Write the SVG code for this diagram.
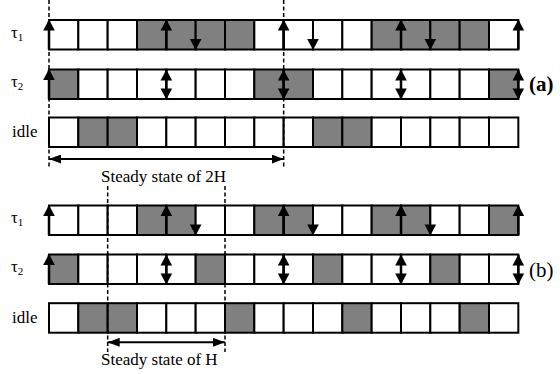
<svg xmlns="http://www.w3.org/2000/svg" xmlns:xlink="http://www.w3.org/1999/xlink" width="560" height="374" viewBox="0 0 560 374">
<style>
.w{fill:#fff;stroke:#000;stroke-width:2}
.g{fill:#808080;stroke:#000;stroke-width:2}
.sh{stroke:#000;stroke-width:2.5}
.ds{stroke:#000;stroke-width:1.5;stroke-dasharray:4,2.5;fill:none}
.hl{stroke:#000;stroke-width:2;fill:none}
</style>
<defs>
<path id="uh" d="M0,0 L5.8,11 L-5.8,11 Z" fill="#000"/>
<path id="dh" d="M0,0 L5.8,-11 L-5.8,-11 Z" fill="#000"/>
<marker id="ah" viewBox="0 0 12 9" refX="12" refY="4.5" markerWidth="12" markerHeight="9" markerUnits="userSpaceOnUse" orient="auto-start-reverse"><path d="M0,0 L12,4.5 L0,9 Z" fill="#000"/></marker>
</defs>

<g font-family="'Liberation Serif', 'Times New Roman', 'DejaVu Serif', serif" fill="#000">
<!-- part (a) -->
<g id="a-tau1">
<text font-size="17" x="11" y="38">τ<tspan font-size="11" dy="3">1</tspan></text>
<rect class="w" x="49" y="20" width="29.33" height="29.5"/>
<rect class="w" x="78.33" y="20" width="29.33" height="29.5"/>
<rect class="w" x="107.67" y="20" width="29.33" height="29.5"/>
<rect class="g" x="137" y="20" width="29.33" height="29.5"/>
<rect class="g" x="166.33" y="20" width="29.33" height="29.5"/>
<rect class="g" x="195.67" y="20" width="29.33" height="29.5"/>
<rect class="g" x="225" y="20" width="29.33" height="29.5"/>
<rect class="w" x="254.33" y="20" width="29.33" height="29.5"/>
<rect class="w" x="283.67" y="20" width="29.33" height="29.5"/>
<rect class="w" x="313" y="20" width="29.33" height="29.5"/>
<rect class="w" x="342.33" y="20" width="29.33" height="29.5"/>
<rect class="g" x="371.67" y="20" width="29.33" height="29.5"/>
<rect class="g" x="401" y="20" width="29.33" height="29.5"/>
<rect class="g" x="430.33" y="20" width="29.33" height="29.5"/>
<rect class="g" x="459.67" y="20" width="29.33" height="29.5"/>
<rect class="w" x="489" y="20" width="29.33" height="29.5"/>
</g>
<g id="a-tau2">
<text font-size="17" x="11" y="87">τ<tspan font-size="11" dy="3">2</tspan></text>
<rect class="g" x="49" y="69.5" width="29.33" height="29.5"/>
<rect class="w" x="78.33" y="69.5" width="29.33" height="29.5"/>
<rect class="w" x="107.67" y="69.5" width="29.33" height="29.5"/>
<rect class="w" x="137" y="69.5" width="29.33" height="29.5"/>
<rect class="w" x="166.33" y="69.5" width="29.33" height="29.5"/>
<rect class="w" x="195.67" y="69.5" width="29.33" height="29.5"/>
<rect class="w" x="225" y="69.5" width="29.33" height="29.5"/>
<rect class="g" x="254.33" y="69.5" width="29.33" height="29.5"/>
<rect class="g" x="283.67" y="69.5" width="29.33" height="29.5"/>
<rect class="w" x="313" y="69.5" width="29.33" height="29.5"/>
<rect class="w" x="342.33" y="69.5" width="29.33" height="29.5"/>
<rect class="w" x="371.67" y="69.5" width="29.33" height="29.5"/>
<rect class="w" x="401" y="69.5" width="29.33" height="29.5"/>
<rect class="w" x="430.33" y="69.5" width="29.33" height="29.5"/>
<rect class="w" x="459.67" y="69.5" width="29.33" height="29.5"/>
<rect class="g" x="489" y="69.5" width="29.33" height="29.5"/>
</g>
<g id="a-idle">
<text font-size="17" x="12" y="137">idle</text>
<rect class="w" x="49" y="117.5" width="29.33" height="29.5"/>
<rect class="g" x="78.33" y="117.5" width="29.33" height="29.5"/>
<rect class="g" x="107.67" y="117.5" width="29.33" height="29.5"/>
<rect class="w" x="137" y="117.5" width="29.33" height="29.5"/>
<rect class="w" x="166.33" y="117.5" width="29.33" height="29.5"/>
<rect class="w" x="195.67" y="117.5" width="29.33" height="29.5"/>
<rect class="w" x="225" y="117.5" width="29.33" height="29.5"/>
<rect class="w" x="254.33" y="117.5" width="29.33" height="29.5"/>
<rect class="w" x="283.67" y="117.5" width="29.33" height="29.5"/>
<rect class="g" x="313" y="117.5" width="29.33" height="29.5"/>
<rect class="g" x="342.33" y="117.5" width="29.33" height="29.5"/>
<rect class="w" x="371.67" y="117.5" width="29.33" height="29.5"/>
<rect class="w" x="401" y="117.5" width="29.33" height="29.5"/>
<rect class="w" x="430.33" y="117.5" width="29.33" height="29.5"/>
<rect class="w" x="459.67" y="117.5" width="29.33" height="29.5"/>
<rect class="w" x="489" y="117.5" width="29.33" height="29.5"/>
</g>
<g id="label-a"><text x="529" y="91" font-size="21" font-weight="bold">(a)</text></g>
<g id="label-2H"><text font-size="17" x="101" y="182">Steady state of 2H</text></g>

<!-- part (b) -->
<g id="b-tau1">
<text font-size="17" x="11" y="223">τ<tspan font-size="11" dy="3">1</tspan></text>
<rect class="w" x="49" y="205.5" width="29.33" height="29.5"/>
<rect class="w" x="78.33" y="205.5" width="29.33" height="29.5"/>
<rect class="w" x="107.67" y="205.5" width="29.33" height="29.5"/>
<rect class="g" x="137" y="205.5" width="29.33" height="29.5"/>
<rect class="g" x="166.33" y="205.5" width="29.33" height="29.5"/>
<rect class="w" x="195.67" y="205.5" width="29.33" height="29.5"/>
<rect class="w" x="225" y="205.5" width="29.33" height="29.5"/>
<rect class="g" x="254.33" y="205.5" width="29.33" height="29.5"/>
<rect class="g" x="283.67" y="205.5" width="29.33" height="29.5"/>
<rect class="w" x="313" y="205.5" width="29.33" height="29.5"/>
<rect class="w" x="342.33" y="205.5" width="29.33" height="29.5"/>
<rect class="g" x="371.67" y="205.5" width="29.33" height="29.5"/>
<rect class="g" x="401" y="205.5" width="29.33" height="29.5"/>
<rect class="w" x="430.33" y="205.5" width="29.33" height="29.5"/>
<rect class="w" x="459.67" y="205.5" width="29.33" height="29.5"/>
<rect class="g" x="489" y="205.5" width="29.33" height="29.5"/>
</g>
<g id="b-tau2">
<text font-size="17" x="11" y="272">τ<tspan font-size="11" dy="3">2</tspan></text>
<rect class="g" x="49" y="254.5" width="29.33" height="29.5"/>
<rect class="w" x="78.33" y="254.5" width="29.33" height="29.5"/>
<rect class="w" x="107.67" y="254.5" width="29.33" height="29.5"/>
<rect class="w" x="137" y="254.5" width="29.33" height="29.5"/>
<rect class="w" x="166.33" y="254.5" width="29.33" height="29.5"/>
<rect class="g" x="195.67" y="254.5" width="29.33" height="29.5"/>
<rect class="w" x="225" y="254.5" width="29.33" height="29.5"/>
<rect class="w" x="254.33" y="254.5" width="29.33" height="29.5"/>
<rect class="w" x="283.67" y="254.5" width="29.33" height="29.5"/>
<rect class="g" x="313" y="254.5" width="29.33" height="29.5"/>
<rect class="w" x="342.33" y="254.5" width="29.33" height="29.5"/>
<rect class="w" x="371.67" y="254.5" width="29.33" height="29.5"/>
<rect class="w" x="401" y="254.5" width="29.33" height="29.5"/>
<rect class="g" x="430.33" y="254.5" width="29.33" height="29.5"/>
<rect class="w" x="459.67" y="254.5" width="29.33" height="29.5"/>
<rect class="w" x="489" y="254.5" width="29.33" height="29.5"/>
</g>
<g id="b-idle">
<text font-size="17" x="12" y="323">idle</text>
<rect class="w" x="49" y="303.2" width="29.33" height="29.5"/>
<rect class="g" x="78.33" y="303.2" width="29.33" height="29.5"/>
<rect class="g" x="107.67" y="303.2" width="29.33" height="29.5"/>
<rect class="w" x="137" y="303.2" width="29.33" height="29.5"/>
<rect class="w" x="166.33" y="303.2" width="29.33" height="29.5"/>
<rect class="w" x="195.67" y="303.2" width="29.33" height="29.5"/>
<rect class="g" x="225" y="303.2" width="29.33" height="29.5"/>
<rect class="w" x="254.33" y="303.2" width="29.33" height="29.5"/>
<rect class="w" x="283.67" y="303.2" width="29.33" height="29.5"/>
<rect class="w" x="313" y="303.2" width="29.33" height="29.5"/>
<rect class="g" x="342.33" y="303.2" width="29.33" height="29.5"/>
<rect class="w" x="371.67" y="303.2" width="29.33" height="29.5"/>
<rect class="w" x="401" y="303.2" width="29.33" height="29.5"/>
<rect class="w" x="430.33" y="303.2" width="29.33" height="29.5"/>
<rect class="g" x="459.67" y="303.2" width="29.33" height="29.5"/>
<rect class="w" x="489" y="303.2" width="29.33" height="29.5"/>
</g>
<g id="label-b"><text x="529" y="277" font-size="21">(b)</text></g>
<g id="label-H"><text font-size="17" x="101" y="365">Steady state of H</text></g>
</g>

<g id="connectors">
<line class="ds" x1="49" y1="0" x2="49" y2="167"/>
<line class="ds" x1="283.67" y1="0" x2="283.67" y2="167"/>
<line class="ds" x1="107.67" y1="186" x2="107.67" y2="352"/>
<line class="ds" x1="225" y1="186" x2="225" y2="352"/>
<line class="hl" x1="49" y1="159" x2="283.67" y2="159" marker-start="url(#ah)" marker-end="url(#ah)"/>
<line class="hl" x1="107.67" y1="342.3" x2="225" y2="342.3" marker-start="url(#ah)" marker-end="url(#ah)"/>

<g>
<line class="sh" x1="49" y1="21" x2="49" y2="49.5"/><use xlink:href="#uh" x="49" y="19.5"/>
<line class="sh" x1="166.33" y1="21" x2="166.33" y2="49.5"/><use xlink:href="#uh" x="166.33" y="19.5"/>
<line class="sh" x1="283.67" y1="21" x2="283.67" y2="49.5"/><use xlink:href="#uh" x="283.67" y="19.5"/>
<line class="sh" x1="401" y1="21" x2="401" y2="49.5"/><use xlink:href="#uh" x="401" y="19.5"/>
<line class="sh" x1="518.33" y1="21" x2="518.33" y2="49.5"/><use xlink:href="#uh" x="518.33" y="19.5"/>
<use xlink:href="#dh" x="195.67" y="50"/>
<use xlink:href="#dh" x="313" y="50"/>
<use xlink:href="#dh" x="430.33" y="50"/>
</g>
<g>
<line class="sh" x1="49" y1="70" x2="49" y2="99"/><use xlink:href="#uh" x="49" y="69"/>
<line class="sh" x1="166.33" y1="70" x2="166.33" y2="98.5"/><use xlink:href="#uh" x="166.33" y="69.5"/><use xlink:href="#dh" x="166.33" y="99.5"/>
<line class="sh" x1="283.67" y1="70" x2="283.67" y2="98.5"/><use xlink:href="#uh" x="283.67" y="69.5"/><use xlink:href="#dh" x="283.67" y="99.5"/>
<line class="sh" x1="401" y1="70" x2="401" y2="98.5"/><use xlink:href="#uh" x="401" y="69.5"/><use xlink:href="#dh" x="401" y="99.5"/>
<line class="sh" x1="518.33" y1="70" x2="518.33" y2="98.5"/><use xlink:href="#uh" x="518.33" y="69.5"/><use xlink:href="#dh" x="518.33" y="99.5"/>
</g>
<g>
<line class="sh" x1="49" y1="206.5" x2="49" y2="235"/><use xlink:href="#uh" x="49" y="205"/>
<line class="sh" x1="166.33" y1="206.5" x2="166.33" y2="235"/><use xlink:href="#uh" x="166.33" y="205"/>
<line class="sh" x1="283.67" y1="206.5" x2="283.67" y2="235"/><use xlink:href="#uh" x="283.67" y="205"/>
<line class="sh" x1="401" y1="206.5" x2="401" y2="235"/><use xlink:href="#uh" x="401" y="205"/>
<line class="sh" x1="518.33" y1="206.5" x2="518.33" y2="235"/><use xlink:href="#uh" x="518.33" y="205"/>
<use xlink:href="#dh" x="195.67" y="235.5"/>
<use xlink:href="#dh" x="313" y="235.5"/>
<use xlink:href="#dh" x="430.33" y="235.5"/>
</g>
<g>
<line class="sh" x1="49" y1="255" x2="49" y2="284"/><use xlink:href="#uh" x="49" y="254"/>
<line class="sh" x1="166.33" y1="255" x2="166.33" y2="283.5"/><use xlink:href="#uh" x="166.33" y="254.5"/><use xlink:href="#dh" x="166.33" y="284.5"/>
<line class="sh" x1="283.67" y1="255" x2="283.67" y2="283.5"/><use xlink:href="#uh" x="283.67" y="254.5"/><use xlink:href="#dh" x="283.67" y="284.5"/>
<line class="sh" x1="401" y1="255" x2="401" y2="283.5"/><use xlink:href="#uh" x="401" y="254.5"/><use xlink:href="#dh" x="401" y="284.5"/>
<line class="sh" x1="518.33" y1="255" x2="518.33" y2="283.5"/><use xlink:href="#uh" x="518.33" y="254.5"/><use xlink:href="#dh" x="518.33" y="284.5"/>
</g>
</g>
</svg>
